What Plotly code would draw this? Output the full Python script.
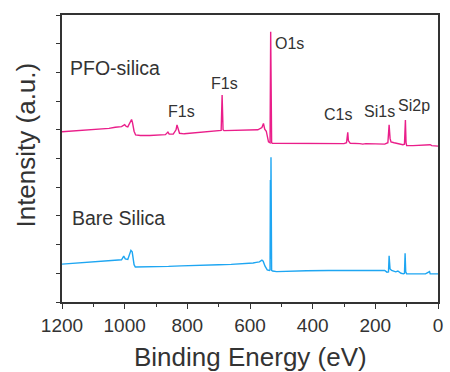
import plotly.graph_objects as go

# XPS survey spectra (binding energy in eV, intensity in arbitrary offset units)
pfo_energy = [1200, 1170, 1140, 1110, 1080, 1050, 1030, 1010, 1000, 995, 990, 983, 978, 975, 970, 965,
              950, 920, 890, 870, 862, 858, 845, 836, 833, 830, 825, 810, 780, 750, 720, 700, 692, 689,
              686, 683, 660, 630, 600, 575, 562, 557, 553, 548, 541, 536, 534, 533, 532, 531, 529, 520,
              480, 440, 400, 350, 300, 292, 288, 286, 283, 280, 250, 240, 230, 200, 170, 160, 156, 153,
              150, 140, 125, 112, 107, 104, 102, 100, 80, 60, 45, 35, 25, 20, 0]
pfo_intensity = [5.93, 5.95, 5.97, 6.00, 6.02, 6.05, 6.09, 6.11, 6.18, 6.12, 6.10, 6.25, 6.36, 6.25, 5.95, 5.82,
                 5.80, 5.80, 5.81, 5.83, 5.92, 5.85, 5.85, 6.00, 6.17, 6.03, 5.88, 5.86, 5.89, 5.92, 5.94, 5.96, 5.98, 7.21,
                 6.00, 5.97, 5.98, 5.98, 5.99, 6.00, 6.08, 6.22, 6.02, 5.95, 5.58, 5.55, 9.42, 5.6, 9.42, 5.56, 5.53, 5.53,
                 5.53, 5.53, 5.53, 5.53, 5.52, 5.55, 5.91, 5.62, 5.58, 5.53, 5.52, 5.50, 5.52, 5.52, 5.50, 5.55, 6.17, 5.70,
                 5.58, 5.55, 5.52, 5.48, 5.50, 6.34, 5.55, 5.45, 5.45, 5.46, 5.47, 5.47, 5.48, 5.45, 5.43]

bare_energy = [1200, 1160, 1120, 1080, 1040, 1010, 1003, 998, 990, 980, 976, 970, 966, 940, 900, 860,
               820, 780, 740, 700, 660, 620, 590, 580, 570, 562, 558, 552, 545, 538, 536, 535, 534, 533,
               531, 528, 515, 480, 420, 350, 300, 285, 275, 220, 185, 170, 163, 158, 156, 153, 148, 135,
               128, 118, 110, 107, 105, 103, 100, 70, 40, 27, 25, 0]
bare_intensity = [1.32, 1.35, 1.37, 1.40, 1.43, 1.47, 1.60, 1.50, 1.48, 1.80, 1.75, 1.30, 1.22, 1.22, 1.23, 1.24,
                  1.26, 1.28, 1.29, 1.30, 1.31, 1.33, 1.36, 1.38, 1.40, 1.46, 1.42, 1.25, 1.12, 1.10, 1.12, 4.25, 1.5, 5.04,
                  1.10, 1.08, 1.06, 1.08, 1.09, 1.10, 1.10, 1.12, 1.10, 1.10, 1.12, 1.10, 1.04, 1.05, 1.61, 1.15, 1.10, 1.05,
                  1.08, 1.00, 0.98, 1.00, 1.70, 1.05, 0.98, 0.98, 0.98, 1.06, 0.98, 0.98]

peak_labels = ["O1s", "F1s", "F1s", "C1s", "Si1s", "Si2p"]
peak_label_x = [527, 682, 820, 319, 188, 78]
peak_label_y = [9.02, 7.63, 6.65, 6.52, 6.65, 6.83]

sample_names = ["PFO-silica", "Bare Silica"]
sample_label_x = [1182, 1174]
sample_label_y = [8.14, 2.93]

x_ticks = [1200, 1000, 800, 600, 400, 200, 0]
y_ticks = list(range(0, 11))

PINK = "#EA1E8A"
BLUE = "#1EA6F2"
AXIS = "#333333"
FONT = "Liberation Sans, Arial, sans-serif"

fig = go.Figure()
fig.add_trace(go.Scatter(x=pfo_energy, y=pfo_intensity, mode="lines",
                         line=dict(color=PINK, width=1.4), showlegend=False))
fig.add_trace(go.Scatter(x=bare_energy, y=bare_intensity, mode="lines",
                         line=dict(color=BLUE, width=1.4), showlegend=False))

for txt, x, y in zip(peak_labels, peak_label_x, peak_label_y):
    fig.add_annotation(x=x, y=y, text=txt, showarrow=False,
                       xanchor="left" if txt == "O1s" else "center",
                       font=dict(family=FONT, size=16, color=AXIS))

for txt, x, y in zip(sample_names, sample_label_x, sample_label_y):
    fig.add_annotation(x=x, y=y, text=txt, showarrow=False, xanchor="left",
                       font=dict(family=FONT, size=19.5, color=AXIS))

# axis titles
fig.add_annotation(xref="paper", yref="paper", x=0.5, y=-0.192, text="Binding Energy (eV)",
                   showarrow=False, xanchor="center", yanchor="middle",
                   font=dict(family=FONT, size=26, color=AXIS))
fig.add_annotation(xref="paper", yref="paper", x=-0.097, y=0.547, text="Intensity (a.u.)",
                   showarrow=False, textangle=-90, xanchor="center", yanchor="middle",
                   font=dict(family=FONT, size=26, color=AXIS))

fig.update_xaxes(range=[1200, 0], tickvals=x_ticks, ticks="outside", ticklen=5, tickwidth=1.2,
                 tickcolor=AXIS, showline=True, linecolor=AXIS, linewidth=1.5, mirror=True,
                 showgrid=False, zeroline=False,
                 minor=dict(dtick=100, ticks="outside", ticklen=3, tickcolor=AXIS, tickwidth=1),
                 tickfont=dict(family=FONT, size=19, color=AXIS))
fig.update_yaxes(range=[0, 10], tickvals=y_ticks, ticks="outside", ticklen=4, tickwidth=1.2,
                 tickcolor=AXIS, showticklabels=False, showline=True, linecolor=AXIS,
                 linewidth=1.5, mirror=True, showgrid=False, zeroline=False)

fig.update_layout(width=450, height=372, margin=dict(l=62, r=7, t=15, b=70),
                  plot_bgcolor="white", paper_bgcolor="white")

fig.write_html("out.html")
